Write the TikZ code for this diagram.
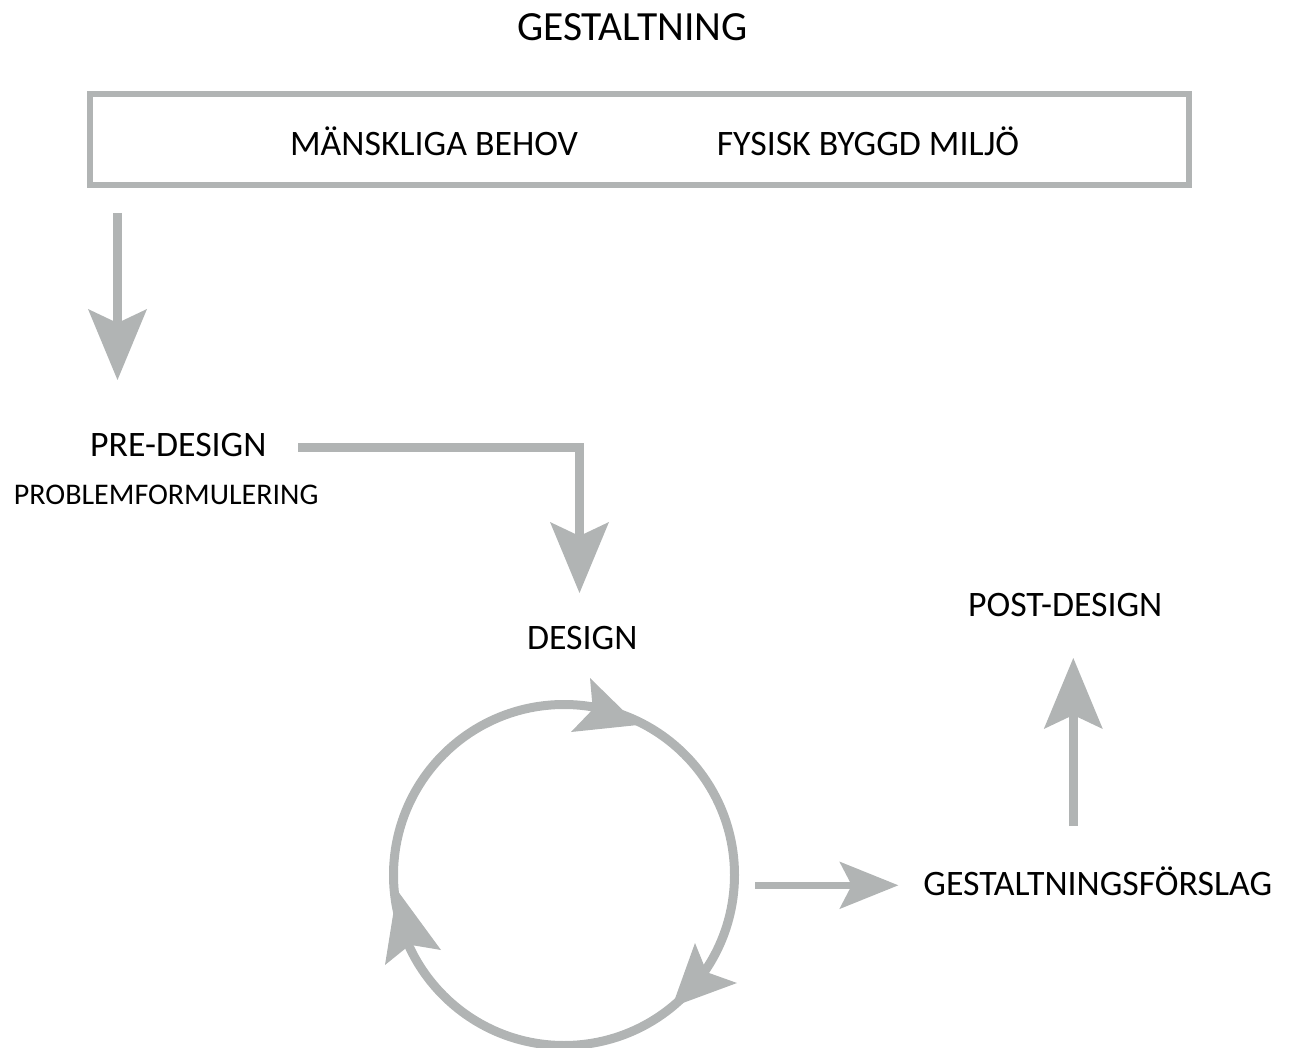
\documentclass[tikz,border=0pt]{standalone}
\usepackage{fontspec}
\setmainfont{Carlito}
\usetikzlibrary{arrows.meta}
\definecolor{gr}{RGB}{177,180,180}
\begin{document}
\begin{tikzpicture}[x=1pt,y=-1pt,
  lbl/.style={anchor=base, inner sep=0pt, text=black, font=\fontsize{35.8}{40}\selectfont},
  ttl/.style={lbl, font=\fontsize{41.5}{46}\selectfont},
  sml/.style={lbl, font=\fontsize{30}{34}\selectfont},
  bigarrow/.style={draw=gr, line width=9pt, miter limit=10,
    -{Stealth[length=71pt,width=59pt,inset=14pt,line width=0pt]}},
  smallarrow/.style={draw=gr, line width=7.3pt,
    -{Stealth[length=59pt,width=47.6pt,inset=12.4pt,line width=0pt]}},
  cyc/.style={draw=gr, line width=9pt},
  cychead/.style={fill=gr, draw=none}
]
\useasboundingbox (0,0) rectangle (1294,1048);

% title and box
\node[ttl] (title) at (632.4,40.5) {GESTALTNING};
\node[draw=gr, line width=6pt, minimum width=1098.4pt, minimum height=90.7pt, inner sep=0pt] (box) at (639.5,139.35) {};
\node[lbl] (needs) at (434,155.5) {MÄNSKLIGA BEHOV};
\node[lbl] (env) at (868,155.5) {FYSISK BYGGD MILJÖ};

% labels
\node[lbl] (pre) at (178.3,456.3) {PRE-DESIGN};
\node[sml] (prob) at (166.2,505) {PROBLEMFORMULERING};
\node[lbl] (design) at (582.2,649) {DESIGN};
\node[lbl] (post) at (1065.2,616.3) {POST-DESIGN};
\node[lbl] (prop) at (1097.8,895) {GESTALTNINGSFÖRSLAG};

% connector coordinates
\coordinate (a1s) at (117.5,213);
\coordinate (a1e) at (117.5,380);
\coordinate (a2s) at (298,447.5);
\coordinate (a2c) at (579.5,447.5);
\coordinate (a2e) at (579.5,593);
\coordinate (a3s) at (755,885.3);
\coordinate (a3e) at (898.3,885.3);
\coordinate (a4s) at (1073.3,826);
\coordinate (a4e) at (1073.3,658);

\draw[bigarrow] (a1s) -- (a1e);
\draw[bigarrow] (a2s) -- (a2c) -- (a2e);
\draw[smallarrow] (a3s) -- (a3e);
\draw[bigarrow] (a4s) -- (a4e);

% design cycle
\coordinate (cc) at (564,875);
\draw[cyc] (cc) circle[radius=170.5pt];
\path[cychead] (638,725) -- (590,678) -- (592.8,709.3) -- (571,732) -- cycle;
\path[cychead] (672,1007) -- (737,983) -- (706.8,972.2) -- (695,943) -- cycle;
\path[cychead] (397,890) -- (441,950) -- (410,944.8) -- (385,965) -- cycle;
\end{tikzpicture}
\end{document}
